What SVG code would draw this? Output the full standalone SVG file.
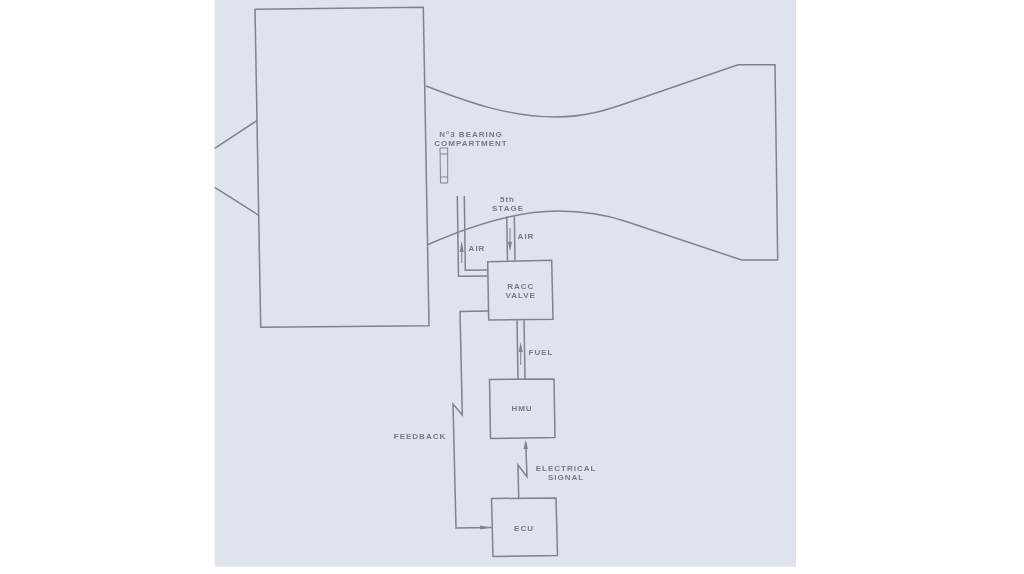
<svg xmlns="http://www.w3.org/2000/svg" width="1024" height="574" viewBox="0 0 1024 574">
<style>
.l{fill:none;stroke:#7f838c;stroke-width:1.5;stroke-linejoin:miter}
.s{fill:none;stroke:#7f838c;stroke-width:1}
.t{fill:#777a83;font-family:"Liberation Sans",Arial,sans-serif;font-size:8px;font-weight:bold;letter-spacing:1px;text-anchor:middle}
.a{fill:#7f838c;stroke:none}
</style>
<defs><filter id="soft" x="0" y="0" width="100%" height="100%" filterUnits="userSpaceOnUse"><feGaussianBlur stdDeviation="0.3"/></filter></defs>
<rect x="0" y="0" width="1024" height="574" fill="#ffffff"/>
<rect x="214.700" y="0" width="581.300" height="566.700" fill="#dfe3ec"/>
<g filter="url(#soft)">
<g id="engine-core"><path class="l" d="M255 9.300L423.300 7.300L429 325.700L260.700 327.300Z"/></g>
<g id="inlet"><path class="l" d="M214.700 148.300L256.700 120.700M214.700 187.300L258.700 215.300"/></g>
<g id="duct"><path class="l" d="M426 86C470 103 510 117 556 117C585 117 605 110.600 627 103L738 64.700L775 64.700L777.700 260L741.700 260L627 221.700C605 214.300 585 211 558 211C515 211 470 226 428 244.500"/></g>
<g id="bearing"><path class="s" d="M440 148L447.700 148L447.700 183L440.500 183ZM440 154L447.700 154M440.500 177L447.700 177"/>
<text class="t" x="471" y="137">N°3 BEARING</text><text class="t" x="471" y="146">COMPARTMENT</text></g>
<g id="racc-valve"><path class="l" d="M487.700 261.700L551.700 260.300L553 319.300L488.700 320Z"/><text class="t" x="520.700" y="289.300">RACC</text><text class="t" x="520.700" y="298.300">VALVE</text></g>
<g id="hmu"><path class="l" d="M489.500 379.500L554 379L555 437.500L490.500 438.500Z"/><text class="t" x="522" y="411.300">HMU</text></g>
<g id="ecu"><path class="l" d="M491.500 498.500L556 498L557.500 555.500L493 556.500Z"/><text class="t" x="524" y="530.700">ECU</text></g>
<g id="connectors">
<path class="l" d="M457.300 196L458.500 276.300L487.700 276M464.300 196L465.300 270.300L487.700 270"/>
<path class="l" d="M506.700 216.500L507.500 261M514.300 215L515 260.500"/>
<path class="l" d="M517 320L518 379.500M524 320L525 379"/>
<path class="l" d="M488.700 311L460 311.500L462.300 415L453 404L456 528L491.700 527.500"/>
<path class="l" d="M518.700 497.700L518 465L527 476.700L525.700 442"/>
<path class="a" d="M461.700 240.700L463.700 252L459.700 252ZM510 251.700L512 241.700L508 241.700ZM520.700 341.700L522.700 352L518.700 352ZM525.700 440L528 449L523.500 449ZM491 527.500L480 529.500L480 525.500Z"/>
<path class="s" d="M461.700 250L461.700 263M510 228L510 243M520.700 350L520.700 365"/>
</g>
<g id="labels">
<text class="t" x="507.500" y="202">5th</text><text class="t" x="508" y="211">STAGE</text>
<text class="t" x="477" y="251">AIR</text><text class="t" x="526" y="239">AIR</text>
<text class="t" x="541" y="355">FUEL</text>
<text class="t" x="420" y="439">FEEDBACK</text>
<text class="t" x="566" y="470.700">ELECTRICAL</text><text class="t" x="566" y="479.700">SIGNAL</text>
</g>
</g>
</svg>
